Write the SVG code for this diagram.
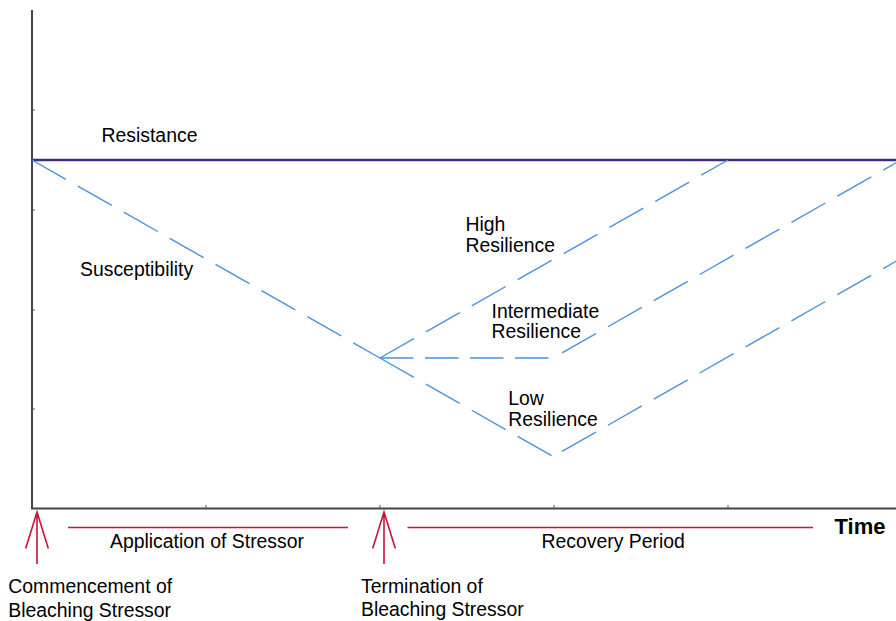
<svg xmlns="http://www.w3.org/2000/svg" width="896" height="621" viewBox="0 0 896 621">
<style>
text{font-family:"Liberation Sans",Arial,Helvetica,sans-serif;font-size:19.4px;fill:#000}
.bold{font-weight:bold;font-size:22px}
.axis{stroke:#454545;stroke-width:2;fill:none}
.tick{stroke:#555;stroke-width:1;fill:none}
.res{stroke:#3d2b80;stroke-width:2.5;fill:none}
.dash{stroke:#4a92db;stroke-width:1.4;fill:none;stroke-dasharray:39 13.8}
.hdash{stroke:#4a92db;stroke-width:1.4;fill:none;stroke-dasharray:33.5 11.5}
.red{stroke:#c8153a;stroke-width:1.6;fill:none}
</style>
<rect width="896" height="621" fill="#ffffff"/>
<g id="axes">
<path class="axis" d="M32,10 V508.5 H896"/>
<path class="tick" d="M32,110 h3 M32,210 h3 M32,310 h3 M32,409 h3 M206,508 v-3 M380,508 v-3 M554,508 v-3 M728,508 v-3"/>
</g>
<g id="connectors">
<path id="resistance-line" class="res" d="M32,160 H896"/>
<path id="susceptibility-line" class="dash" d="M32,160 L380,358"/>
<path id="high-line" class="dash" d="M380,358 L728,160"/>
<path id="intermediate-flat" class="hdash" d="M380,358 L553,358"/>
<path id="intermediate-rise" class="dash" style="stroke-dashoffset:42.4" d="M553,358 L896,162.8"/>
<path id="low-fall" class="dash" d="M380,358 L553,456.5"/>
<path id="low-rise" class="dash" style="stroke-dashoffset:42.4" d="M553,456.5 L896,261.3"/>
<path id="stressor-span" class="red" d="M68,527.5 H348"/>
<path id="recovery-span" class="red" d="M407.5,527.5 H813"/>
<path id="arrow-commencement" class="red" d="M37,564 V512 M25.7,548.5 L37,512 L48.3,548.5"/>
<path id="arrow-termination" class="red" d="M384,564 V512 M372.7,548.5 L384,512 L395.3,548.5"/>
</g>
<g id="label-resistance"><text x="101.5" y="141.7">Resistance</text></g>
<g id="label-susceptibility"><text x="80" y="275.7">Susceptibility</text></g>
<g id="label-high"><text x="465.5" y="231">High</text><text x="465.5" y="251.7">Resilience</text></g>
<g id="label-intermediate"><text x="491.5" y="317.7">Intermediate</text><text x="491.5" y="338.3">Resilience</text></g>
<g id="label-low"><text x="508.3" y="405">Low</text><text x="508.3" y="426">Resilience</text></g>
<g id="label-time"><text class="bold" x="834.5" y="533.5">Time</text></g>
<g id="label-application"><text x="110" y="548.3">Application of Stressor</text></g>
<g id="label-recovery"><text x="541.5" y="548.3">Recovery Period</text></g>
<g id="label-commencement"><text x="8.3" y="593.3">Commencement of</text><text x="8.3" y="616.5">Bleaching Stressor</text></g>
<g id="label-termination"><text x="361" y="592.5">Termination of</text><text x="361" y="615.5">Bleaching Stressor</text></g>
</svg>
